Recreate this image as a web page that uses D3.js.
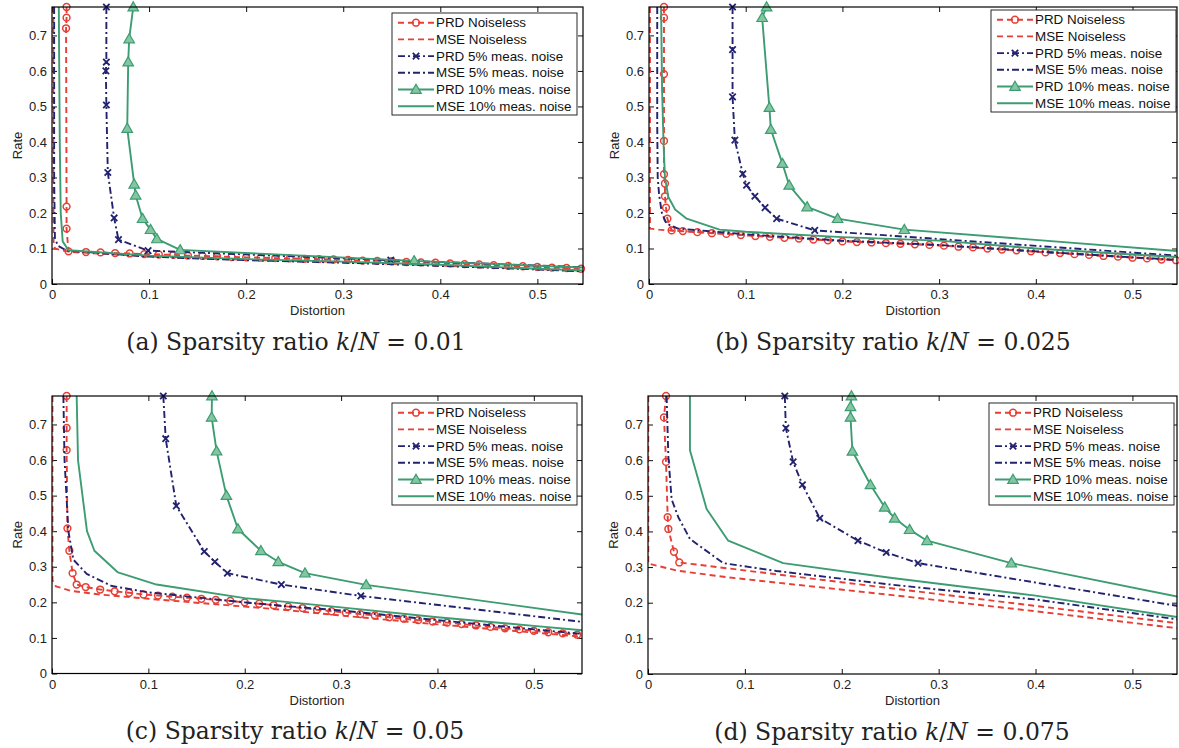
<!DOCTYPE html>
<html>
<head>
<meta charset="utf-8">
<script src="https://cdn.jsdelivr.net/npm/d3@7"></script>
<style>
  body { margin: 0; background: #fff; }
  svg { display: block; }
</style>
</head>
<body>
<svg id="fig" width="1179" height="748"></svg>
<script>
// ---- Rate–distortion curves: [distortion, rate] pairs per series and panel ----

// (a) k/N = 0.01
const aPrdNoiseless = [[0.0150,0.780],[0.0150,0.750],[0.0145,0.720],[0.0150,0.218],[0.0150,0.156],[0.0170,0.092],
  [0.035,0.090],[0.05,0.089],[0.065,0.087],[0.08,0.086],[0.095,0.084],[0.11,0.083],[0.125,0.082],[0.14,0.080],
  [0.155,0.079],[0.17,0.078],[0.185,0.076],[0.2,0.075],[0.215,0.074],[0.23,0.073],[0.245,0.072],[0.26,0.071],
  [0.275,0.070],[0.29,0.069],[0.305,0.068],[0.32,0.066],[0.335,0.065],[0.35,0.064],[0.365,0.062],[0.38,0.061],
  [0.395,0.060],[0.41,0.058],[0.425,0.056],[0.44,0.055],[0.455,0.053],[0.47,0.051],[0.485,0.050],[0.5,0.048],
  [0.515,0.046],[0.53,0.045],[0.545,0.043]];
const aMseNoiseless = [[0.0014,0.78],[0.0014,0.30],[0.0016,0.12],[0.003,0.100],[0.01,0.095],[0.02,0.090],
  [0.1,0.078],[0.2,0.068],[0.3,0.062],[0.4,0.052],[0.5,0.042],[0.56,0.036]];
const aPrd5 = [[0.056,0.78],[0.056,0.625],[0.0555,0.600],[0.056,0.504],[0.0575,0.314],[0.064,0.186],
  [0.0685,0.125],[0.099,0.094],[0.349,0.067],[0.56,0.046]];
const aMse5 = [[0.0022,0.78],[0.0022,0.30],[0.003,0.130],[0.006,0.108],[0.015,0.094],[0.1,0.077],
  [0.2,0.067],[0.3,0.060],[0.4,0.051],[0.5,0.041],[0.56,0.034]];
const aPrd10 = [[0.0837,0.78],[0.0795,0.690],[0.0785,0.625],[0.0775,0.438],[0.0847,0.281],[0.0862,0.250],
  [0.0933,0.184],[0.1015,0.153],[0.108,0.127],[0.132,0.096],[0.373,0.065],[0.56,0.045]];
const aMse10 = [[0.007,0.78],[0.008,0.40],[0.009,0.20],[0.011,0.120],[0.017,0.095],[0.1,0.080],
  [0.2,0.070],[0.3,0.063],[0.4,0.054],[0.5,0.043],[0.56,0.037]];

// (b) k/N = 0.025
const bPrdNoiseless = [[0.0155,0.780],[0.0155,0.750],[0.0155,0.591],[0.0155,0.403],[0.0155,0.309],[0.0165,0.283],
  [0.0165,0.247],[0.0176,0.215],[0.0190,0.184],[0.0234,0.151],
  [0.035,0.149],[0.05,0.146],[0.065,0.143],[0.08,0.141],[0.095,0.138],[0.11,0.135],[0.125,0.133],[0.14,0.130],
  [0.155,0.128],[0.17,0.125],[0.185,0.123],[0.2,0.120],[0.215,0.118],[0.23,0.117],[0.245,0.115],[0.26,0.113],
  [0.275,0.112],[0.29,0.110],[0.305,0.108],[0.32,0.105],[0.335,0.103],[0.35,0.100],[0.365,0.097],[0.38,0.095],
  [0.395,0.092],[0.41,0.089],[0.425,0.087],[0.44,0.084],[0.455,0.082],[0.47,0.079],[0.485,0.077],[0.5,0.074],
  [0.515,0.072],[0.53,0.069],[0.545,0.067]];
const bMseNoiseless = [[0.001,0.78],[0.001,0.156],[0.01,0.153],[0.025,0.150],[0.1,0.138],[0.2,0.121],
  [0.3,0.109],[0.4,0.091],[0.5,0.075],[0.56,0.064]];
const bPrd5 = [[0.0864,0.78],[0.0864,0.660],[0.0864,0.527],[0.0888,0.405],[0.097,0.310],[0.1009,0.278],
  [0.1095,0.247],[0.120,0.215],[0.132,0.184],[0.1714,0.151],[0.56,0.077]];
const bMse5 = [[0.0085,0.78],[0.0085,0.45],[0.009,0.30],[0.0105,0.25],[0.0133,0.20],[0.018,0.170],
  [0.03,0.156],[0.1,0.140],[0.2,0.122],[0.3,0.110],[0.4,0.092],[0.5,0.075],[0.56,0.066]];
const bPrd10 = [[0.1216,0.78],[0.117,0.750],[0.1245,0.497],[0.126,0.435],[0.138,0.339],[0.145,0.278],
  [0.1635,0.217],[0.195,0.184],[0.264,0.153],[0.56,0.090]];
const bMse10 = [[0.0125,0.78],[0.0135,0.55],[0.015,0.40],[0.0165,0.30],[0.02,0.245],[0.027,0.210],
  [0.039,0.184],[0.073,0.153],[0.1,0.147],[0.2,0.132],[0.3,0.122],[0.4,0.100],[0.5,0.083],[0.56,0.074]];

// (c) k/N = 0.05
const cPrdNoiseless = [[0.0152,0.780],[0.0152,0.690],[0.0152,0.628],[0.016,0.408],[0.018,0.345],[0.0214,0.282],
  [0.0256,0.250],
  [0.035,0.243],[0.05,0.236],[0.065,0.231],[0.08,0.227],[0.095,0.222],[0.11,0.219],[0.125,0.216],[0.14,0.213],
  [0.155,0.210],[0.17,0.207],[0.185,0.204],[0.2,0.200],[0.215,0.196],[0.23,0.192],[0.245,0.188],[0.26,0.184],
  [0.275,0.179],[0.29,0.175],[0.305,0.171],[0.32,0.167],[0.335,0.163],[0.35,0.158],[0.365,0.154],[0.38,0.150],
  [0.395,0.146],[0.41,0.143],[0.425,0.139],[0.44,0.135],[0.455,0.131],[0.47,0.127],[0.485,0.124],[0.5,0.120],
  [0.515,0.116],[0.53,0.113],[0.545,0.109]];
const cMseNoiseless = [[0.0005,0.78],[0.0005,0.262],[0.004,0.245],[0.02,0.232],[0.05,0.222],[0.1,0.210],
  [0.2,0.188],[0.24,0.179],[0.3,0.163],[0.4,0.138],[0.5,0.115],[0.56,0.101]];
const cPrd5 = [[0.1155,0.78],[0.118,0.660],[0.129,0.471],[0.158,0.343],[0.169,0.314],[0.182,0.282],
  [0.238,0.250],[0.3205,0.218],[0.56,0.142]];
const cMse5 = [[0.0118,0.78],[0.013,0.60],[0.017,0.40],[0.0222,0.32],[0.036,0.280],[0.062,0.246],
  [0.1,0.228],[0.2,0.200],[0.24,0.190],[0.3,0.177],[0.4,0.150],[0.5,0.124],[0.56,0.109]];
const cPrd10 = [[0.166,0.78],[0.1657,0.720],[0.1708,0.625],[0.181,0.500],[0.193,0.406],[0.2168,0.345],
  [0.2348,0.314],[0.2625,0.282],[0.326,0.249],[0.56,0.162]];
const cMse10 = [[0.0256,0.78],[0.027,0.60],[0.0363,0.40],[0.044,0.345],[0.0685,0.284],[0.1085,0.250],
  [0.2,0.212],[0.24,0.202],[0.3,0.186],[0.4,0.158],[0.5,0.134],[0.56,0.119]];

// (d) k/N = 0.075
const dPrdNoiseless = [[0.0186,0.78],[0.0165,0.720],[0.0186,0.595],[0.0203,0.440],[0.021,0.407],[0.0268,0.343],
  [0.0323,0.313],[0.56,0.138]];
const dMseNoiseless = [[0.0003,0.78],[0.0003,0.310],[0.03,0.290],[0.08,0.272],[0.25,0.222],[0.4,0.176],[0.56,0.124]];
const dPrd5 = [[0.1412,0.78],[0.1423,0.690],[0.1498,0.595],[0.1594,0.531],[0.1773,0.437],[0.2167,0.374],
  [0.2459,0.341],[0.2787,0.311],[0.56,0.185]];
const dMse5 = [[0.0192,0.78],[0.021,0.610],[0.0244,0.490],[0.0313,0.440],[0.0433,0.379],[0.0777,0.311],
  [0.1326,0.289],[0.25,0.251],[0.4,0.209],[0.56,0.148]];
const dPrd10 = [[0.210,0.78],[0.209,0.750],[0.209,0.720],[0.211,0.625],[0.2296,0.531],[0.2443,0.468],
  [0.2546,0.437],[0.270,0.405],[0.288,0.374],[0.375,0.311],[0.56,0.210]];
const dMse10 = [[0.0433,0.78],[0.0433,0.628],[0.0605,0.463],[0.0828,0.374],[0.1395,0.311],[0.25,0.270],
  [0.4,0.220],[0.56,0.154]];

// ---- labels and ticks ----
const seriesNames = ["PRD Noiseless", "MSE Noiseless", "PRD 5% meas. noise",
                     "MSE 5% meas. noise", "PRD 10% meas. noise", "MSE 10% meas. noise"];
const panelTags = ["(a)", "(b)", "(c)", "(d)"];
const sparsityRatios = ["0.01", "0.025", "0.05", "0.075"];
const xTickValues = [0, 0.1, 0.2, 0.3, 0.4, 0.5];
const yTickValues = [0, 0.1, 0.2, 0.3, 0.4, 0.5, 0.6, 0.7];
const xAxisTitle = "Distortion";
const yAxisTitle = "Rate";

const panelSeries = [
  [aPrdNoiseless, aMseNoiseless, aPrd5, aMse5, aPrd10, aMse10],
  [bPrdNoiseless, bMseNoiseless, bPrd5, bMse5, bPrd10, bMse10],
  [cPrdNoiseless, cMseNoiseless, cPrd5, cMse5, cPrd10, cMse10],
  [dPrdNoiseless, dMseNoiseless, dPrd5, dMse5, dPrd10, dMse10]
];

// ---- styling and layout ----
const RED = "#e63f36", NAVY = "#22226f", GREEN = "#3c9c72";
const seriesStyle = [
  { color: RED,   dash: "6,4",       marker: "circle" },
  { color: RED,   dash: "6,4",       marker: null },
  { color: NAVY,  dash: "7,3,2,3",   marker: "cross" },
  { color: NAVY,  dash: "7,3,2,3",   marker: null },
  { color: GREEN, dash: null,        marker: "triangle" },
  { color: GREEN, dash: null,        marker: null }
];
const frames = [
  { left: 52,  right: 583,  top: 7,   bottom: 284,   xMax: 0.547, legX: 392, legY: 13,  capX: 296 },
  { left: 649, right: 1177, top: 7,   bottom: 284,   xMax: 0.546, legX: 991, legY: 10,  capX: 893 },
  { left: 52,  right: 582,  top: 396, bottom: 673.5, xMax: 0.550, legX: 392, legY: 403, capX: 295 },
  { left: 648, right: 1177, top: 396, bottom: 674,   xMax: 0.546, legX: 989, legY: 403, capX: 892 }
];
const Y_MAX = 0.78;
const SANS = "'Liberation Sans', Arial, Helvetica, sans-serif";
const SERIF = "'DejaVu Serif', 'Liberation Serif', serif";

const svg = d3.select("#fig");
const defs = svg.append("defs");
const tickFmt = d => d === 0 ? "0" : d3.format(".1f")(d);

function drawMarker(sel, kind, cx, cy, color) {
  if (kind === "circle") {
    sel.append("circle").attr("cx", cx).attr("cy", cy).attr("r", 3.4)
      .attr("fill", "none").attr("stroke", color).attr("stroke-width", 1.5);
  } else if (kind === "cross") {
    const s = 3.2;
    sel.append("path")
      .attr("d", `M${cx - s},${cy - s}L${cx + s},${cy + s}M${cx - s},${cy + s}L${cx + s},${cy - s}`)
      .attr("stroke", color).attr("stroke-width", 1.8).attr("fill", "none");
  } else if (kind === "triangle") {
    sel.append("path")
      .attr("d", d3.symbol().type(d3.symbolTriangle).size(48)())
      .attr("transform", `translate(${cx},${cy + 0.8})`)
      .attr("fill", "#84c6a0").attr("stroke", color).attr("stroke-width", 1.2);
  }
}

frames.forEach((f, i) => {
  const g = svg.append("g");
  const x = d3.scaleLinear().domain([0, f.xMax]).range([f.left, f.right]);
  const y = d3.scaleLinear().domain([0, Y_MAX]).range([f.bottom, f.top]);

  const clipId = "plotclip" + i;
  defs.append("clipPath").attr("id", clipId).append("rect")
    .attr("x", f.left).attr("y", f.top)
    .attr("width", f.right - f.left).attr("height", f.bottom - f.top);

  // axes with inward ticks on all four sides
  const styleAxis = a => {
    a.select(".domain").remove();
    a.selectAll(".tick line").attr("stroke", "#111").attr("stroke-width", 1);
    a.selectAll(".tick text").attr("fill", "#222").style("font-family", SANS).style("font-size", "13px");
  };
  g.append("g").attr("transform", `translate(0,${f.bottom})`)
    .call(d3.axisBottom(x).tickValues(xTickValues).tickSizeInner(-5).tickSizeOuter(0).tickPadding(6).tickFormat(tickFmt))
    .call(styleAxis);
  g.append("g").attr("transform", `translate(0,${f.top})`)
    .call(d3.axisTop(x).tickValues(xTickValues).tickSizeInner(-5).tickSizeOuter(0).tickFormat(""))
    .call(styleAxis);
  g.append("g").attr("transform", `translate(${f.left},0)`)
    .call(d3.axisLeft(y).tickValues(yTickValues).tickSizeInner(-5).tickSizeOuter(0).tickPadding(5).tickFormat(tickFmt))
    .call(styleAxis);
  g.append("g").attr("transform", `translate(${f.right},0)`)
    .call(d3.axisRight(y).tickValues(yTickValues).tickSizeInner(-5).tickSizeOuter(0).tickFormat(""))
    .call(styleAxis);

  // curves: each series' line then its markers, in legend order
  const line = d3.line().x(d => x(d[0])).y(d => y(d[1]));
  panelSeries[i].forEach((data, s) => {
    const st = seriesStyle[s];
    g.append("path").attr("d", line(data)).attr("clip-path", `url(#${clipId})`)
      .attr("fill", "none").attr("stroke", st.color).attr("stroke-width", 1.9)
      .attr("stroke-dasharray", st.dash).attr("stroke-linejoin", "round");
    if (st.marker) {
      const mg = g.append("g");
      data.filter(d => d[0] <= f.xMax && d[1] <= Y_MAX)
        .forEach(d => drawMarker(mg, st.marker, x(d[0]), y(d[1]), st.color));
    }
  });

  // frame
  g.append("rect").attr("x", f.left).attr("y", f.top)
    .attr("width", f.right - f.left).attr("height", f.bottom - f.top)
    .attr("fill", "none").attr("stroke", "#000").attr("stroke-width", 1.2);

  // axis titles
  g.append("text").attr("x", (f.left + f.right) / 2).attr("y", f.bottom + 31)
    .attr("text-anchor", "middle").attr("fill", "#222")
    .style("font-family", SANS).style("font-size", "13px").text(xAxisTitle);
  g.append("text")
    .attr("transform", `translate(${f.left - 35},${(f.top + f.bottom) / 2}) rotate(-90)`)
    .attr("text-anchor", "middle").attr("dy", "0.35em").attr("fill", "#222")
    .style("font-family", SANS).style("font-size", "13px").text(yAxisTitle);

  // legend
  const lg = g.append("g").attr("transform", `translate(${f.legX},${f.legY})`);
  lg.append("rect").attr("width", 185).attr("height", 102)
    .attr("fill", "#fff").attr("stroke", "#111").attr("stroke-width", 0.9);
  seriesNames.forEach((name, s) => {
    const st = seriesStyle[s];
    const cy = 9.7 + s * 16.7;
    lg.append("line").attr("x1", 6).attr("x2", 42).attr("y1", cy).attr("y2", cy)
      .attr("stroke", st.color).attr("stroke-width", 1.9).attr("stroke-dasharray", st.dash);
    if (st.marker) drawMarker(lg, st.marker, 24, cy, st.color);
    lg.append("text").attr("x", 44).attr("y", cy).attr("dy", "0.35em").attr("fill", "#111")
      .style("font-family", SANS).style("font-size", "13.4px").text(name);
  });

  // caption
  const cap = svg.append("text").attr("x", f.capX).attr("y", f.bottom + 65.5)
    .attr("text-anchor", "middle").attr("fill", "#222")
    .style("font-family", SERIF).style("font-size", "23.5px");
  cap.append("tspan").text(panelTags[i] + " Sparsity ratio ");
  cap.append("tspan").style("font-style", "italic").text("k");
  cap.append("tspan").text("/");
  cap.append("tspan").style("font-style", "italic").text("N");
  cap.append("tspan").text(" = " + sparsityRatios[i]);
});
</script>
</body>
</html>
